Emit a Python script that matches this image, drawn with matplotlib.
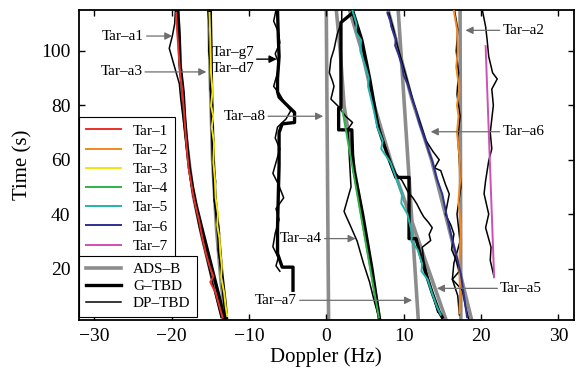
import numpy as np
import matplotlib.pyplot as plt

plt.rcParams['font.family'] = ['Liberation Serif', 'DejaVu Serif']

# ---- estimated tracks (Doppler Hz, time s) ----
# Tar-1
red_d = [-19.4, -19.3, -19.1, -18.9, -18.6, -18.4, -18.2, -18.0, -17.8, -17.5, -17.2, -16.9,
         -16.4, -16.0, -15.6, -15.1, -14.6, -15.0, -14.3, -13.9, -13.4]
red_t = [114, 108, 100, 92, 85, 78, 70, 63, 57, 52, 47, 43, 37, 31, 26, 21, 17, 15, 11, 7, 2]
ads1_d = [-19.2, -18.9, -18.2, -17.2, -16.0, -14.8, -13.3]
ads1_t = [115, 95, 70, 47, 31, 17, 1]
gtbd1_d = [-19.2, -19.0, -18.9, -18.5, -18.3, -18.0, -17.7, -17.3, -16.8, -16.1, -15.3, -14.5, -13.7, -13.2]
gtbd1_t = [115, 105, 95, 85, 75, 65, 57, 50, 43, 35, 26, 17, 8, 1]
dp1_d = [-19.5, -19.6, -19.9, -20.3, -19.8, -19.4, -19.0, -18.8, -18.5, -18.2, -17.9, -17.6,
         -17.3, -16.9, -16.4, -15.9, -15.4, -14.9, -14.3, -13.6]
dp1_t = [115, 110, 105.5, 101, 96, 92, 88, 82, 75, 68, 61, 54, 48, 42, 35, 29, 23, 17, 10, 2]

# Tar-3
yel_d = [-15.1, -15.0, -14.9, -14.7, -14.9, -14.6, -14.8, -14.5, -14.6, -14.4, -14.3, -14.0,
         -14.1, -13.8, -13.7, -13.5, -13.6, -13.2, -13.0, -12.8]
yel_t = [114, 105, 92, 85, 80, 76, 72, 66, 59, 53, 46, 40, 36, 31, 26, 21, 17, 11, 6, 2.5]
ads3_d = [-15.2, -15.0, -14.7, -14.2, -13.6, -13.0]
ads3_t = [115, 90, 60, 35, 15, 1]
gtbd3_d = [-15.0, -14.9, -14.8, -14.6, -14.4, -14.1, -13.8, -13.5, -13.1, -12.9]
gtbd3_t = [115, 100, 80, 60, 47, 38, 28, 18, 8, 2]
dp3_d = [-15.3, -15.1, -15.2, -14.9, -15.0, -14.7, -14.8, -14.5, -14.6, -14.3, -14.5, -14.1,
         -13.8, -14.0, -13.6, -13.4, -13.1]
dp3_t = [115, 108, 100, 93, 86, 80, 73, 66, 59, 52, 45, 39, 33, 27, 20, 12, 3]

# Tar-g7 / Tar-d7 (no ADS-B)
gtbd7_d = [-6.3, -6.2, -6.1, -6.3, -6.3, -6.1, -5.4, -4.1, -4.1, -5.7, -6.1, -6.1, -6.2,
           -6.3, -6.3, -5.7, -4.3, -4.3]
gtbd7_t = [115, 105, 98, 90, 85, 83, 81, 77.4, 73.7, 73.2, 70, 58, 47, 35, 25.5, 20.5, 20.5, 12]
dp7b_d = [-6.5, -6.8, -6.2, -6.0, -6.6, -6.1, -6.4, -6.8, -6.0, -5.6, -4.6, -5.2, -6.3, -6.6,
          -6.0, -6.4, -6.9, -6.2, -5.5, -6.5, -6.1, -6.6, -6.9, -6.2, -6.5, -6.0]
dp7b_t = [115, 111, 107, 103, 99, 95, 91, 87, 84, 82, 78, 75, 72, 68, 64, 60, 55, 51, 46, 42,
          38, 33, 28, 24, 21, 19]

# Tar-a8 (ADS-B only)
ads8_d = [0.0, 0.3]
ads8_t = [115, 1]

# Tar-4
grn_d = [2.1, 6.8]
grn_t = [78, 2]
ads4_d = [1.3, 1.8, 2.3, 3.4, 4.6, 5.8, 6.9]
ads4_t = [115, 100, 80, 60, 40, 20, 1]
gtbd4_d = [3.4, 1.9, 1.9, 1.6, 1.6, 3.3, 3.4, 3.6, 4.7, 5.9, 6.9]
gtbd4_t = [114, 110.5, 79, 79, 71, 71, 62, 56, 40, 20, 1]
dp4_d = [2.0, 2.0, 1.4, 1.0, 0.6, 0.4, 0.8, 1.0, 0.6, 1.5, 2.5, 3.4, 2.8, 3.0, 3.2, 2.8,
         2.3, 2.6, 3.0, 4.0, 4.8, 5.6, 6.2, 6.9]
dp4_t = [114.7, 111, 106, 100.6, 97, 92, 89, 87, 82.3, 79.8, 76, 73.7, 71.3, 60, 50, 46,
         41, 39, 36.5, 30, 22, 15, 8, 1]

# Tar-a7 (ADS-B only)
ads7_d = [9.3, 11.9]
ads7_t = [115, 1]

# Tar-5
cyn_d = [3.4, 3.9, 3.8, 4.5, 4.4, 5.1, 5.5, 5.4, 6.0, 6.6, 7.3, 7.1, 8.3, 9.0, 9.8, 9.7, 10.5,
         11.1, 11.0, 11.8, 12.4, 12.3, 13.1, 13.7, 14.3, 14.8]
cyn_t = [114.7, 110, 107, 104, 100, 94, 90, 87, 80, 72, 67, 64, 59, 53.5, 47.4, 44, 40, 32.7,
         30, 27, 21.7, 19, 16, 10.7, 6, 3]
ads5_d = [3.0, 4.6, 6.2, 8.4, 10.5, 12.8, 15.5]
ads5_t = [115, 100, 80, 59, 42, 23, 1]
gtbd5_d = [3.5, 4.6, 5.6, 6.7, 8.0, 9.0, 10.7, 10.7, 11.6, 12.5, 13.7, 14.6, 15.0]
gtbd5_t = [114, 104, 90, 72, 61, 53.5, 53.5, 31, 31, 21.5, 11, 4, 2]
dp5_d = [3.3, 3.8, 4.6, 5.2, 5.9, 6.5, 7.2, 8.2, 9.0, 9.8, 10.6, 11.2, 11.7, 12.2, 12.6, 13.2,
         13.7, 13.3, 13.5, 12.4, 12.6, 13.1, 13.8, 14.4]
dp5_t = [114.7, 109, 103, 94, 85, 76, 68, 60, 55, 52.3, 48, 46, 43.8, 41, 39, 37, 35, 32.5,
         30.3, 27.8, 23, 17, 10, 4]

# Tar-6
blu_d = [7.9, 8.3, 8.4, 9.0, 8.9, 9.3, 9.8, 10.0, 10.5, 11.1, 11.6, 12.0, 12.7, 13.3, 13.7,
         14.3, 15.0, 15.6, 16.3, 16.9, 17.4, 17.8, 18.2]
blu_t = [114, 111, 109, 104.3, 102, 99, 94.5, 91, 88, 82.3, 78, 73.7, 68, 62.7, 59.6, 53, 47.4,
         39, 30.3, 24, 18, 10, 2.1]
ads6_d = [8.0, 11.0, 13.6, 16.2, 18.8]
ads6_t = [115, 83, 60, 31, 1]
dp6_d = [8.1, 8.7, 9.2, 9.9, 10.6, 11.3, 12.1, 12.9, 13.8, 14.6, 14.0, 14.8, 15.4, 15.9, 15.4,
         16.1, 16.5, 16.2, 16.8, 17.2, 16.3, 17.6, 18.0, 18.4]
dp6_t = [114, 108, 102, 95, 88, 81, 74, 67, 63, 60, 57, 56, 51, 47.4, 40, 36, 32.7, 27, 23, 19,
         16, 12, 6, 1.5]

# Tar-2
org_d = [16.5, 16.9, 17.0, 16.8, 17.2, 16.9, 17.1, 16.9, 17.2, 17.3, 17.1, 17.4, 17.2, 17.3, 17.2]
org_t = [114.7, 108, 100, 94, 86, 80, 76, 70, 61.7, 52, 45, 35, 22, 10, 3.5]
ads2_d = [17.3, 17.4]
ads2_t = [115, 1]
dp2_d = [16.6, 17.0, 16.8, 17.1, 16.9, 17.3, 17.0, 17.2, 17.4, 16.9, 17.3, 16.5, 16.3, 17.0, 17.2]
dp2_t = [114.7, 108, 100, 92, 84, 76, 68, 60, 50, 40, 30, 22, 16, 10, 3]

# Tar-7
mag_d = [20.6, 21.7]
mag_t = [101.8, 16.8]
dp7_d = [20.2, 20.6, 20.8, 21.0, 21.5, 22.1, 21.4, 21.6, 21.2, 21.4, 21.0, 20.6, 20.4, 21.0,
         20.6, 21.3, 21.2, 21.7]
dp7_t = [114.7, 109, 104, 98, 92, 89.7, 86, 80, 70, 64, 59.6, 52.3, 47.5, 40, 35, 27.8, 23, 16.8]

# annotations: label, text pos, arrow tip
ann_labels = ['Tar–a1', 'Tar–a3', 'Tar–a8', 'Tar–a4', 'Tar–a7', 'Tar–a2', 'Tar–a6', 'Tar–a5']
ann_text = [(-26.3, 105.5), (-26.5, 92.3), (-10.6, 76), (-3.3, 31), (-6.5, 8.3),
            (25.5, 107.6), (25.5, 70.3), (25.2, 12.7)]
ann_tip = [(-19.9, 105.5), (-15.5, 92.3), (-0.4, 76), (3.8, 31), (11.1, 8.3),
           (18.0, 107.6), (13.5, 70.3), (14.3, 12.7)]

gray = '#8c8c8c'
fig = plt.figure(figsize=(5.79, 3.78), dpi=100)
ax = fig.add_axes([0.136, 0.153, 0.855, 0.82])

for d, t in [(ads1_d, ads1_t), (ads3_d, ads3_t), (ads8_d, ads8_t), (ads4_d, ads4_t),
             (ads7_d, ads7_t), (ads5_d, ads5_t), (ads6_d, ads6_t), (ads2_d, ads2_t)]:
    ax.plot(d, t, color=gray, lw=2.6, zorder=1)
for d, t in [(gtbd1_d, gtbd1_t), (gtbd3_d, gtbd3_t), (gtbd7_d, gtbd7_t), (gtbd4_d, gtbd4_t),
             (gtbd5_d, gtbd5_t)]:
    ax.plot(d, t, color='black', lw=2.4, zorder=2)
for d, t in [(dp1_d, dp1_t), (dp3_d, dp3_t), (dp7b_d, dp7b_t), (dp4_d, dp4_t), (dp5_d, dp5_t),
             (dp6_d, dp6_t), (dp2_d, dp2_t), (dp7_d, dp7_t)]:
    ax.plot(d, t, color='black', lw=1.1, zorder=3)

h1, = ax.plot(red_d, red_t, color='#e8312a', lw=1.4, zorder=4, label='Tar–1')
h2, = ax.plot(org_d, org_t, color='#f4871f', lw=1.4, zorder=4, label='Tar–2')
h3, = ax.plot(yel_d, yel_t, color='#f2e60c', lw=1.4, zorder=4, label='Tar–3')
h4, = ax.plot(grn_d, grn_t, color='#2db34a', lw=1.4, zorder=4, label='Tar–4')
h5, = ax.plot(cyn_d, cyn_t, color='#1fb5ac', lw=1.4, zorder=4, label='Tar–5')
h6, = ax.plot(blu_d, blu_t, color='#2e2f8f', lw=1.4, zorder=4, label='Tar–6')
h7, = ax.plot(mag_d, mag_t, color='#d04fb2', lw=1.4, zorder=4, label='Tar–7')

for lab, xy_t, xy_a in zip(ann_labels, ann_text, ann_tip):
    ax.annotate(lab, xy=xy_a, xytext=xy_t, fontsize=11, ha='center', va='center', zorder=6,
                arrowprops=dict(arrowstyle='-|>', color='#6e6e6e', lw=0.9, mutation_scale=11,
                                shrinkA=0, shrinkB=0))
ax.text(-14.8, 99.3, 'Tar–g7', fontsize=11, ha='left', va='center', zorder=6)
ax.text(-14.8, 93.4, 'Tar–d7', fontsize=11, ha='left', va='center', zorder=6)
ax.annotate('', xy=(-6.4, 97), xytext=(-9.0, 97),
            arrowprops=dict(arrowstyle='-|>', color='black', lw=1.0, mutation_scale=11,
                            shrinkA=0, shrinkB=0), zorder=6)

leg1 = ax.legend(handles=[h1, h2, h3, h4, h5, h6, h7], loc='upper left',
                 bbox_to_anchor=(0, 0.655), borderaxespad=0, fontsize=11, labelspacing=0.36,
                 handlelength=2.3, handletextpad=0.8, borderpad=0.45, fancybox=False,
                 edgecolor='black', framealpha=1)
leg1.get_frame().set_linewidth(0.8)
leg1.set_zorder(10)
ax.add_artist(leg1)
g1, = ax.plot([], [], color=gray, lw=2.6, label='ADS–B')
g2, = ax.plot([], [], color='black', lw=2.4, label='G–TBD')
g3, = ax.plot([], [], color='black', lw=1.1, label='DP–TBD')
leg2 = ax.legend(handles=[g1, g2, g3], loc='lower left', bbox_to_anchor=(0, 0.01), borderaxespad=0,
                 fontsize=11, labelspacing=0.22, handlelength=2.3, handletextpad=0.8,
                 borderpad=0.45, fancybox=False, edgecolor='black', framealpha=1)
leg2.get_frame().set_linewidth(0.8)
leg2.set_zorder(11)

ax.set_xlim(-32, 32)
ax.set_ylim(1, 115)
ax.set_xticks([-30, -20, -10, 0, 10, 20, 30])
ax.set_yticks([20, 40, 60, 80, 100])
ax.tick_params(direction='in', top=True, right=True, labelsize=14, length=4, width=1, pad=6)
for s in ax.spines.values():
    s.set_linewidth(1.3)
ax.set_xlabel('Doppler (Hz)', fontsize=15, labelpad=1)
ax.set_ylabel('Time (s)', fontsize=15, labelpad=6)

plt.savefig('out.png')
